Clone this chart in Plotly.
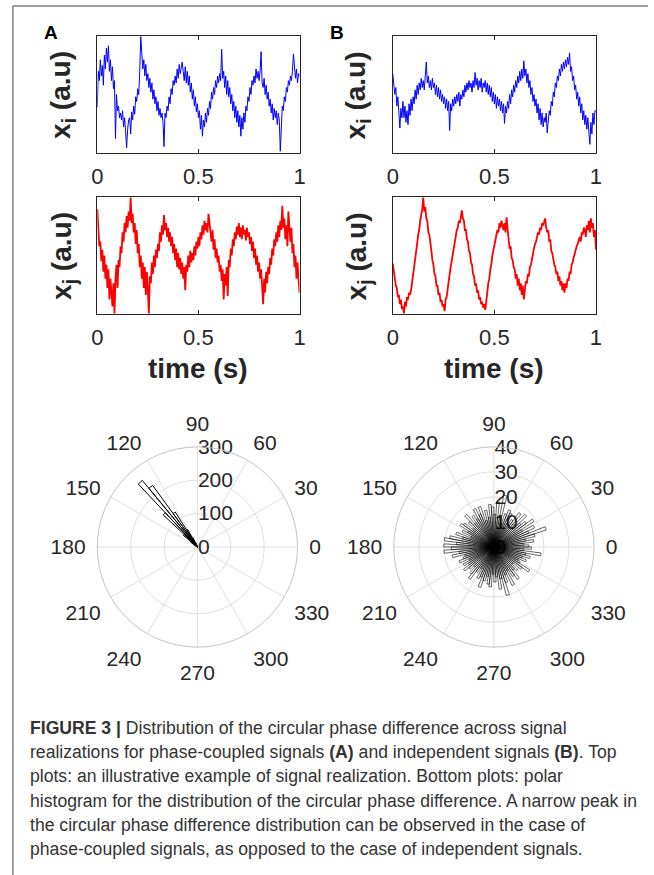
import plotly.graph_objects as go

# ---------------- data ----------------
# time grid for the signal realisations (s)
time_s = [round(i * 0.005, 3) for i in range(201)]

# Panel A, x_i (blue) - arbitrary units (0..1 of axis height)
xi_A = [
    0.39, 0.70, 0.62, 0.80, 0.66, 0.75, 0.58, 0.84, 0.72, 0.90,
    0.78, 0.92, 0.70, 0.80, 0.62, 0.74, 0.55, 0.62, 0.12, 0.50,
    0.36, 0.40, 0.30, 0.34, 0.28, 0.36, 0.22, 0.30, 0.18, 0.04,
    0.20, 0.28, 0.30, 0.16, 0.35, 0.28, 0.40, 0.33, 0.48, 0.44,
    0.55, 0.50, 0.70, 1.00, 0.86, 0.72, 0.80, 0.66, 0.76, 0.62,
    0.68, 0.56, 0.64, 0.52, 0.60, 0.46, 0.54, 0.42, 0.48, 0.36,
    0.44, 0.32, 0.38, 0.30, 0.34, 0.26, 0.05, 0.34, 0.30, 0.40,
    0.36, 0.48, 0.42, 0.55, 0.50, 0.62, 0.58, 0.66, 0.60, 0.72,
    0.64, 0.76, 0.68, 0.72, 0.78, 0.70, 0.62, 0.74, 0.60, 0.70,
    0.58, 0.66, 0.52, 0.60, 0.46, 0.54, 0.40, 0.48, 0.35, 0.42,
    0.30, 0.36, 0.20, 0.32, 0.14, 0.28, 0.22, 0.34, 0.26, 0.38,
    0.32, 0.44, 0.38, 0.52, 0.46, 0.56, 0.50, 0.62, 0.56, 0.66,
    0.60, 0.68, 0.62, 0.89, 0.64, 0.70, 0.56, 0.66, 0.50, 0.62,
    0.48, 0.56, 0.42, 0.50, 0.36, 0.44, 0.30, 0.40, 0.26, 0.36,
    0.22, 0.32, 0.14, 0.30, 0.20, 0.34, 0.26, 0.40, 0.36, 0.48,
    0.44, 0.56, 0.50, 0.62, 0.58, 0.66, 0.60, 0.72, 0.64, 0.70,
    0.62, 0.70, 0.87, 0.60, 0.56, 0.64, 0.50, 0.58, 0.46, 0.52,
    0.40, 0.46, 0.34, 0.42, 0.28, 0.38, 0.30, 0.36, 0.24, 0.34,
    0.28, 0.01, 0.30, 0.40, 0.36, 0.48, 0.44, 0.56, 0.52, 0.62,
    0.58, 0.66, 0.62, 0.70, 0.85, 0.74, 0.64, 0.72, 0.60, 0.68,
    0.66,
]

# Panel A, x_j (red)
xj_A = [
    0.90, 0.70, 0.58, 0.62, 0.45, 0.55, 0.36, 0.50, 0.30, 0.42,
    0.22, 0.38, 0.12, 0.30, 0.20, 0.06, 0.26, 0.00, 0.30, 0.42,
    0.22, 0.46, 0.40, 0.58, 0.52, 0.70, 0.62, 0.78, 0.70, 0.84,
    0.74, 0.88, 0.80, 1.00, 0.78, 0.86, 0.70, 0.78, 0.60, 0.72,
    0.52, 0.60, 0.40, 0.50, 0.30, 0.44, 0.22, 0.40, 0.16, 0.36,
    0.20, 0.00, 0.32, 0.26, 0.44, 0.34, 0.50, 0.40, 0.55, 0.48,
    0.60, 0.54, 0.70, 0.62, 0.76, 0.68, 0.85, 0.72, 0.78, 0.66,
    0.74, 0.62, 0.70, 0.58, 0.66, 0.52, 0.60, 0.46, 0.56, 0.40,
    0.52, 0.38, 0.48, 0.34, 0.44, 0.30, 0.40, 0.20, 0.42, 0.36,
    0.50, 0.40, 0.54, 0.44, 0.52, 0.46, 0.58, 0.50, 0.62, 0.56,
    0.66, 0.58, 0.70, 0.64, 0.76, 0.68, 0.80, 0.72, 0.78, 0.70,
    0.86, 0.74, 0.70, 0.62, 0.72, 0.55, 0.64, 0.48, 0.56, 0.44,
    0.50, 0.36, 0.42, 0.28, 0.38, 0.12, 0.34, 0.24, 0.40, 0.15,
    0.46, 0.40, 0.56, 0.50, 0.64, 0.58, 0.70, 0.64, 0.75, 0.68,
    0.78, 0.66, 0.74, 0.64, 0.76, 0.68, 0.72, 0.63, 0.74, 0.66,
    0.70, 0.60, 0.66, 0.54, 0.62, 0.48, 0.56, 0.42, 0.50, 0.36,
    0.44, 0.30, 0.38, 0.24, 0.08, 0.30, 0.18, 0.36, 0.26, 0.40,
    0.34, 0.48, 0.42, 0.56, 0.50, 0.64, 0.58, 0.70, 0.62, 0.76,
    0.66, 0.80, 0.72, 0.93, 0.74, 0.82, 0.64, 0.76, 0.58, 0.88,
    0.70, 0.62, 0.74, 0.52, 0.60, 0.40, 0.50, 0.30, 0.44, 0.25,
    0.18,
]

# Panel B, x_i (blue)
xi_B = [
    0.68, 0.60, 0.50, 0.56, 0.40, 0.48, 0.34, 0.21, 0.38, 0.30,
    0.44, 0.30, 0.40, 0.26, 0.36, 0.24, 0.42, 0.32, 0.46, 0.36,
    0.48, 0.42, 0.54, 0.46, 0.58, 0.50, 0.60, 0.54, 0.64, 0.56,
    0.62, 0.54, 0.66, 0.78, 0.60, 0.66, 0.56, 0.62, 0.54, 0.64,
    0.56, 0.60, 0.50, 0.58, 0.48, 0.56, 0.46, 0.54, 0.44, 0.50,
    0.42, 0.48, 0.38, 0.46, 0.36, 0.44, 0.19, 0.42, 0.36, 0.46,
    0.40, 0.48, 0.42, 0.50, 0.44, 0.52, 0.40, 0.50, 0.46, 0.54,
    0.48, 0.58, 0.52, 0.60, 0.54, 0.62, 0.56, 0.60, 0.52, 0.62,
    0.56, 0.69, 0.58, 0.64, 0.54, 0.62, 0.56, 0.64, 0.52, 0.60,
    0.56, 0.62, 0.52, 0.60, 0.50, 0.58, 0.48, 0.56, 0.44, 0.52,
    0.42, 0.50, 0.38, 0.48, 0.40, 0.46, 0.36, 0.44, 0.34, 0.42,
    0.25, 0.40, 0.34, 0.44, 0.38, 0.50, 0.42, 0.54, 0.48, 0.58,
    0.52, 0.62, 0.56, 0.66, 0.60, 0.70, 0.62, 0.72, 0.64, 0.79,
    0.66, 0.72, 0.60, 0.68, 0.56, 0.62, 0.50, 0.56, 0.44, 0.50,
    0.40, 0.46, 0.34, 0.42, 0.28, 0.38, 0.24, 0.34, 0.22, 0.30,
    0.26, 0.34, 0.17, 0.30, 0.36, 0.32, 0.44, 0.40, 0.52, 0.48,
    0.60, 0.56, 0.66, 0.62, 0.72, 0.66, 0.76, 0.70, 0.78, 0.72,
    0.80, 0.74, 0.82, 0.76, 0.86, 0.70, 0.74, 0.62, 0.66, 0.54,
    0.58, 0.46, 0.52, 0.40, 0.48, 0.34, 0.42, 0.28, 0.36, 0.24,
    0.32, 0.20, 0.30, 0.18, 0.07, 0.26, 0.16, 0.34, 0.24, 0.36,
    0.36,
]

# Panel B, x_j (red)
xj_B = [
    0.43, 0.36, 0.30, 0.24, 0.22, 0.14, 0.16, 0.08, 0.12, 0.04,
    0.06, 0.00, 0.10, 0.06, 0.14, 0.12, 0.18, 0.16, 0.20, 0.26,
    0.32, 0.40, 0.46, 0.54, 0.60, 0.68, 0.72, 0.80, 0.84, 0.90,
    1.00, 0.88, 0.92, 0.82, 0.80, 0.70, 0.68, 0.58, 0.54, 0.46,
    0.42, 0.34, 0.32, 0.24, 0.24, 0.16, 0.18, 0.10, 0.12, 0.06,
    0.08, 0.02, 0.12, 0.14, 0.22, 0.28, 0.34, 0.40, 0.46, 0.52,
    0.56, 0.62, 0.66, 0.72, 0.74, 0.80, 0.78, 0.84, 0.89, 0.82,
    0.80, 0.72, 0.72, 0.64, 0.62, 0.54, 0.52, 0.44, 0.42, 0.34,
    0.32, 0.24, 0.26, 0.18, 0.20, 0.12, 0.14, 0.08, 0.10, 0.05,
    0.08, 0.03, 0.14, 0.18, 0.26, 0.30, 0.38, 0.42, 0.50, 0.54,
    0.60, 0.62, 0.68, 0.72, 0.70, 0.78, 0.74, 0.80, 0.76, 0.72,
    0.78, 0.70, 0.83, 0.68, 0.64, 0.56, 0.58, 0.48, 0.46, 0.40,
    0.38, 0.30, 0.34, 0.24, 0.30, 0.20, 0.26, 0.16, 0.24, 0.12,
    0.22, 0.28, 0.26, 0.34, 0.32, 0.40, 0.42, 0.48, 0.52, 0.56,
    0.60, 0.62, 0.66, 0.70, 0.68, 0.74, 0.72, 0.78, 0.76, 0.80,
    0.82, 0.74, 0.70, 0.72, 0.62, 0.64, 0.54, 0.52, 0.46, 0.42,
    0.40, 0.34, 0.36, 0.28, 0.32, 0.24, 0.28, 0.20, 0.26, 0.18,
    0.26, 0.22, 0.30, 0.28, 0.36, 0.34, 0.42, 0.44, 0.48, 0.52,
    0.54, 0.58, 0.60, 0.64, 0.66, 0.62, 0.70, 0.68, 0.74, 0.72,
    0.66, 0.76, 0.72, 0.80, 0.70, 0.82, 0.74, 0.78, 0.66, 0.72,
    0.55,
]

# polar histogram bins (100 bins over 360 degrees)
bin_width_deg = 3.6
bin_centers_deg = [round(bin_width_deg / 2 + bin_width_deg * k, 1) for k in range(100)]

# Panel A counts (only bins 29..42 non-zero)
counts_A = [0] * 29 + [3, 8, 15, 30, 60, 124, 228, 259, 141, 55, 25, 12, 6, 3] + [0] * 57

# Panel B counts
counts_B = [
    14, 12, 16, 13, 17, 22, 15, 18, 13, 19,
    16, 14, 18, 12, 17, 13, 11, 15, 16, 14,
    10, 21, 12, 18, 13, 16, 17, 12, 15, 11,
    17, 14, 17, 13, 15, 12, 17, 14, 11, 15,
    16, 12, 14, 10, 16, 13, 18, 20, 15, 20,
    17, 20, 14, 17, 12, 13, 15, 11, 14, 12,
    15, 13, 11, 14, 16, 12, 10, 14, 13, 17,
    14, 12, 15, 16, 11, 14, 12, 17, 13, 20,
    15, 12, 17, 11, 14, 16, 12, 13, 10, 14,
    17, 12, 11, 14, 12, 15, 13, 19, 12, 15,
]

x_tick_vals = [0, 0.5, 1]
x_tick_text = ["0", "0.5", "1"]
ang_tick_vals = [0, 30, 60, 90, 120, 150, 180, 210, 240, 270, 300, 330]
ang_tick_text = [str(v) for v in ang_tick_vals]
r_ticks_A = [0, 100, 200, 300]
r_ticks_B = [0, 10, 20, 30, 40]

caption_lines = [
    "<b>FIGURE 3 |</b> Distribution of the circular phase difference across signal",
    "realizations for phase-coupled signals <b>(A)</b> and independent signals <b>(B)</b>. Top",
    "plots: an illustrative example of signal realization. Bottom plots: polar",
    "histogram for the distribution of the circular phase difference. A narrow peak in",
    "the circular phase difference distribution can be observed in the case of",
    "phase-coupled signals, as opposed to the case of independent signals.",
]

# ---------------- figure ----------------
W, H = 654, 875
FONT = "Liberation Sans, Arial, sans-serif"
AX = "#262626"


def px(x):
    return x / W


def py(y):
    return 1 - y / H


fig = go.Figure()

fig.add_trace(go.Scatter(x=time_s, y=xi_A, mode="lines", line=dict(color="#0000ff", width=1),
                         xaxis="x", yaxis="y"))
fig.add_trace(go.Scatter(x=time_s, y=xj_A, mode="lines", line=dict(color="#ff0000", width=1.8),
                         xaxis="x2", yaxis="y2"))
fig.add_trace(go.Scatter(x=time_s, y=xi_B, mode="lines", line=dict(color="#0000ff", width=1),
                         xaxis="x3", yaxis="y3"))
fig.add_trace(go.Scatter(x=time_s, y=xj_B, mode="lines", line=dict(color="#ff0000", width=1.8),
                         xaxis="x4", yaxis="y4"))

fig.add_trace(go.Barpolar(r=counts_A, theta=bin_centers_deg, width=bin_width_deg,
                          marker=dict(color="rgba(0,0,0,0)", line=dict(color="black", width=1.0)),
                          subplot="polar"))
fig.add_trace(go.Barpolar(r=counts_B, theta=bin_centers_deg, width=bin_width_deg,
                          marker=dict(color="rgba(0,0,0,0)", line=dict(color="black", width=0.6)),
                          subplot="polar2"))

xcol = [93, 299]
xcol2 = [394, 601]
yrow1 = [36, 153]
yrow2 = [197, 314]


def xax(dom, anchor):
    return dict(domain=[px(dom[0]), px(dom[1])], anchor=anchor, range=[0, 1],
                tickvals=x_tick_vals, ticktext=x_tick_text, ticks="inside", ticklen=4,
                tickcolor=AX, mirror="ticks", showline=True, linecolor=AX, linewidth=1,
                showgrid=False, zeroline=False, tickfont=dict(family=FONT, size=22, color=AX),
                ticklabelstandoff=4)


def yax(dom, anchor):
    return dict(domain=[py(dom[1]), py(dom[0])], anchor=anchor, range=[-0.005, 1.005],
                showticklabels=False, ticks="", mirror=True, showline=True, linecolor=AX,
                linewidth=1, showgrid=False, zeroline=False)


def polar_layout(cx, rng, rticks):
    return dict(
        domain=dict(x=[px(cx - 102), px(cx + 102)], y=[py(649), py(445)]),
        bgcolor="white",
        bargap=0,
        angularaxis=dict(rotation=0, direction="counterclockwise", tickvals=ang_tick_vals,
                         ticktext=ang_tick_text, tickfont=dict(family=FONT, size=21, color=AX),
                         showline=True, linecolor="#c4c4c4", gridcolor="#e0e0e0",
                         ticks="outside", ticklen=7, tickcolor="rgba(0,0,0,0)"),
        radialaxis=dict(range=rng, tickvals=rticks, ticktext=[str(v) for v in rticks], angle=90,
                        side="clockwise", showline=False, gridcolor="#e0e0e0", ticks="",
                        tickangle=90,
                        tickfont=dict(family=FONT, size=21, color=AX), layer="below traces"),
    )


annotations = []
bold_title = dict(family=FONT, size=28, color=AX)
for (xc, yc, txt) in [(58, 95, "<b>x<sub>i</sub> (a.u)</b>"), (58, 256, "<b>x<sub>j</sub> (a.u)</b>"),
                      (359, 95, "<b>x<sub>i</sub> (a.u)</b>"), (359, 256, "<b>x<sub>j</sub> (a.u)</b>")]:
    annotations.append(dict(x=px(xc), y=py(yc), xref="paper", yref="paper", text=txt, textangle=-90,
                            showarrow=False, font=bold_title, xanchor="center", yanchor="middle"))
for xc in (196, 497):
    annotations.append(dict(x=px(xc), y=py(368), xref="paper", yref="paper", text="<b>time (s)</b>",
                            showarrow=False, font=bold_title, xanchor="center", yanchor="middle"))
for (xc, txt) in [(46, "A"), (337, "B")]:
    annotations.append(dict(x=px(xc), y=py(32), xref="paper", yref="paper", text="<b>%s</b>" % txt,
                            showarrow=False, font=dict(family=FONT, size=19, color="black"),
                            xanchor="center", yanchor="middle"))
for i, line in enumerate(caption_lines):
    annotations.append(dict(x=px(22), y=py(728 + 24.2 * i), xref="paper", yref="paper", text=line,
                            showarrow=False, xanchor="left", yanchor="middle", align="left",
                            font=dict(family=FONT, size=17.6, color="#333333")))

shapes = [
    dict(type="line", xref="paper", yref="paper", x0=px(7), x1=px(7), y0=py(6), y1=py(875),
         line=dict(color="#7f7f7f", width=1.5)),
    dict(type="line", xref="paper", yref="paper", x0=px(7), x1=1, y0=py(6), y1=py(6),
         line=dict(color="#7f7f7f", width=1.5)),
]

fig.update_layout(
    width=W, height=H, margin=dict(l=0, r=0, t=0, b=0), showlegend=False,
    paper_bgcolor="white", plot_bgcolor="white",
    xaxis=xax(xcol, "y"), yaxis=yax(yrow1, "x"),
    xaxis2=xax(xcol, "y2"), yaxis2=yax(yrow2, "x2"),
    xaxis3=xax(xcol2, "y3"), yaxis3=yax(yrow1, "x3"),
    xaxis4=xax(xcol2, "y4"), yaxis4=yax(yrow2, "x4"),
    polar=polar_layout(195, [0, 300], r_ticks_A),
    polar2=polar_layout(497, [0, 40], r_ticks_B),
    annotations=annotations, shapes=shapes,
)

fig.write_html("out.html", config={"displayModeBar": False},
               post_script="document.body.style.margin='0';document.body.style.padding='0';")
